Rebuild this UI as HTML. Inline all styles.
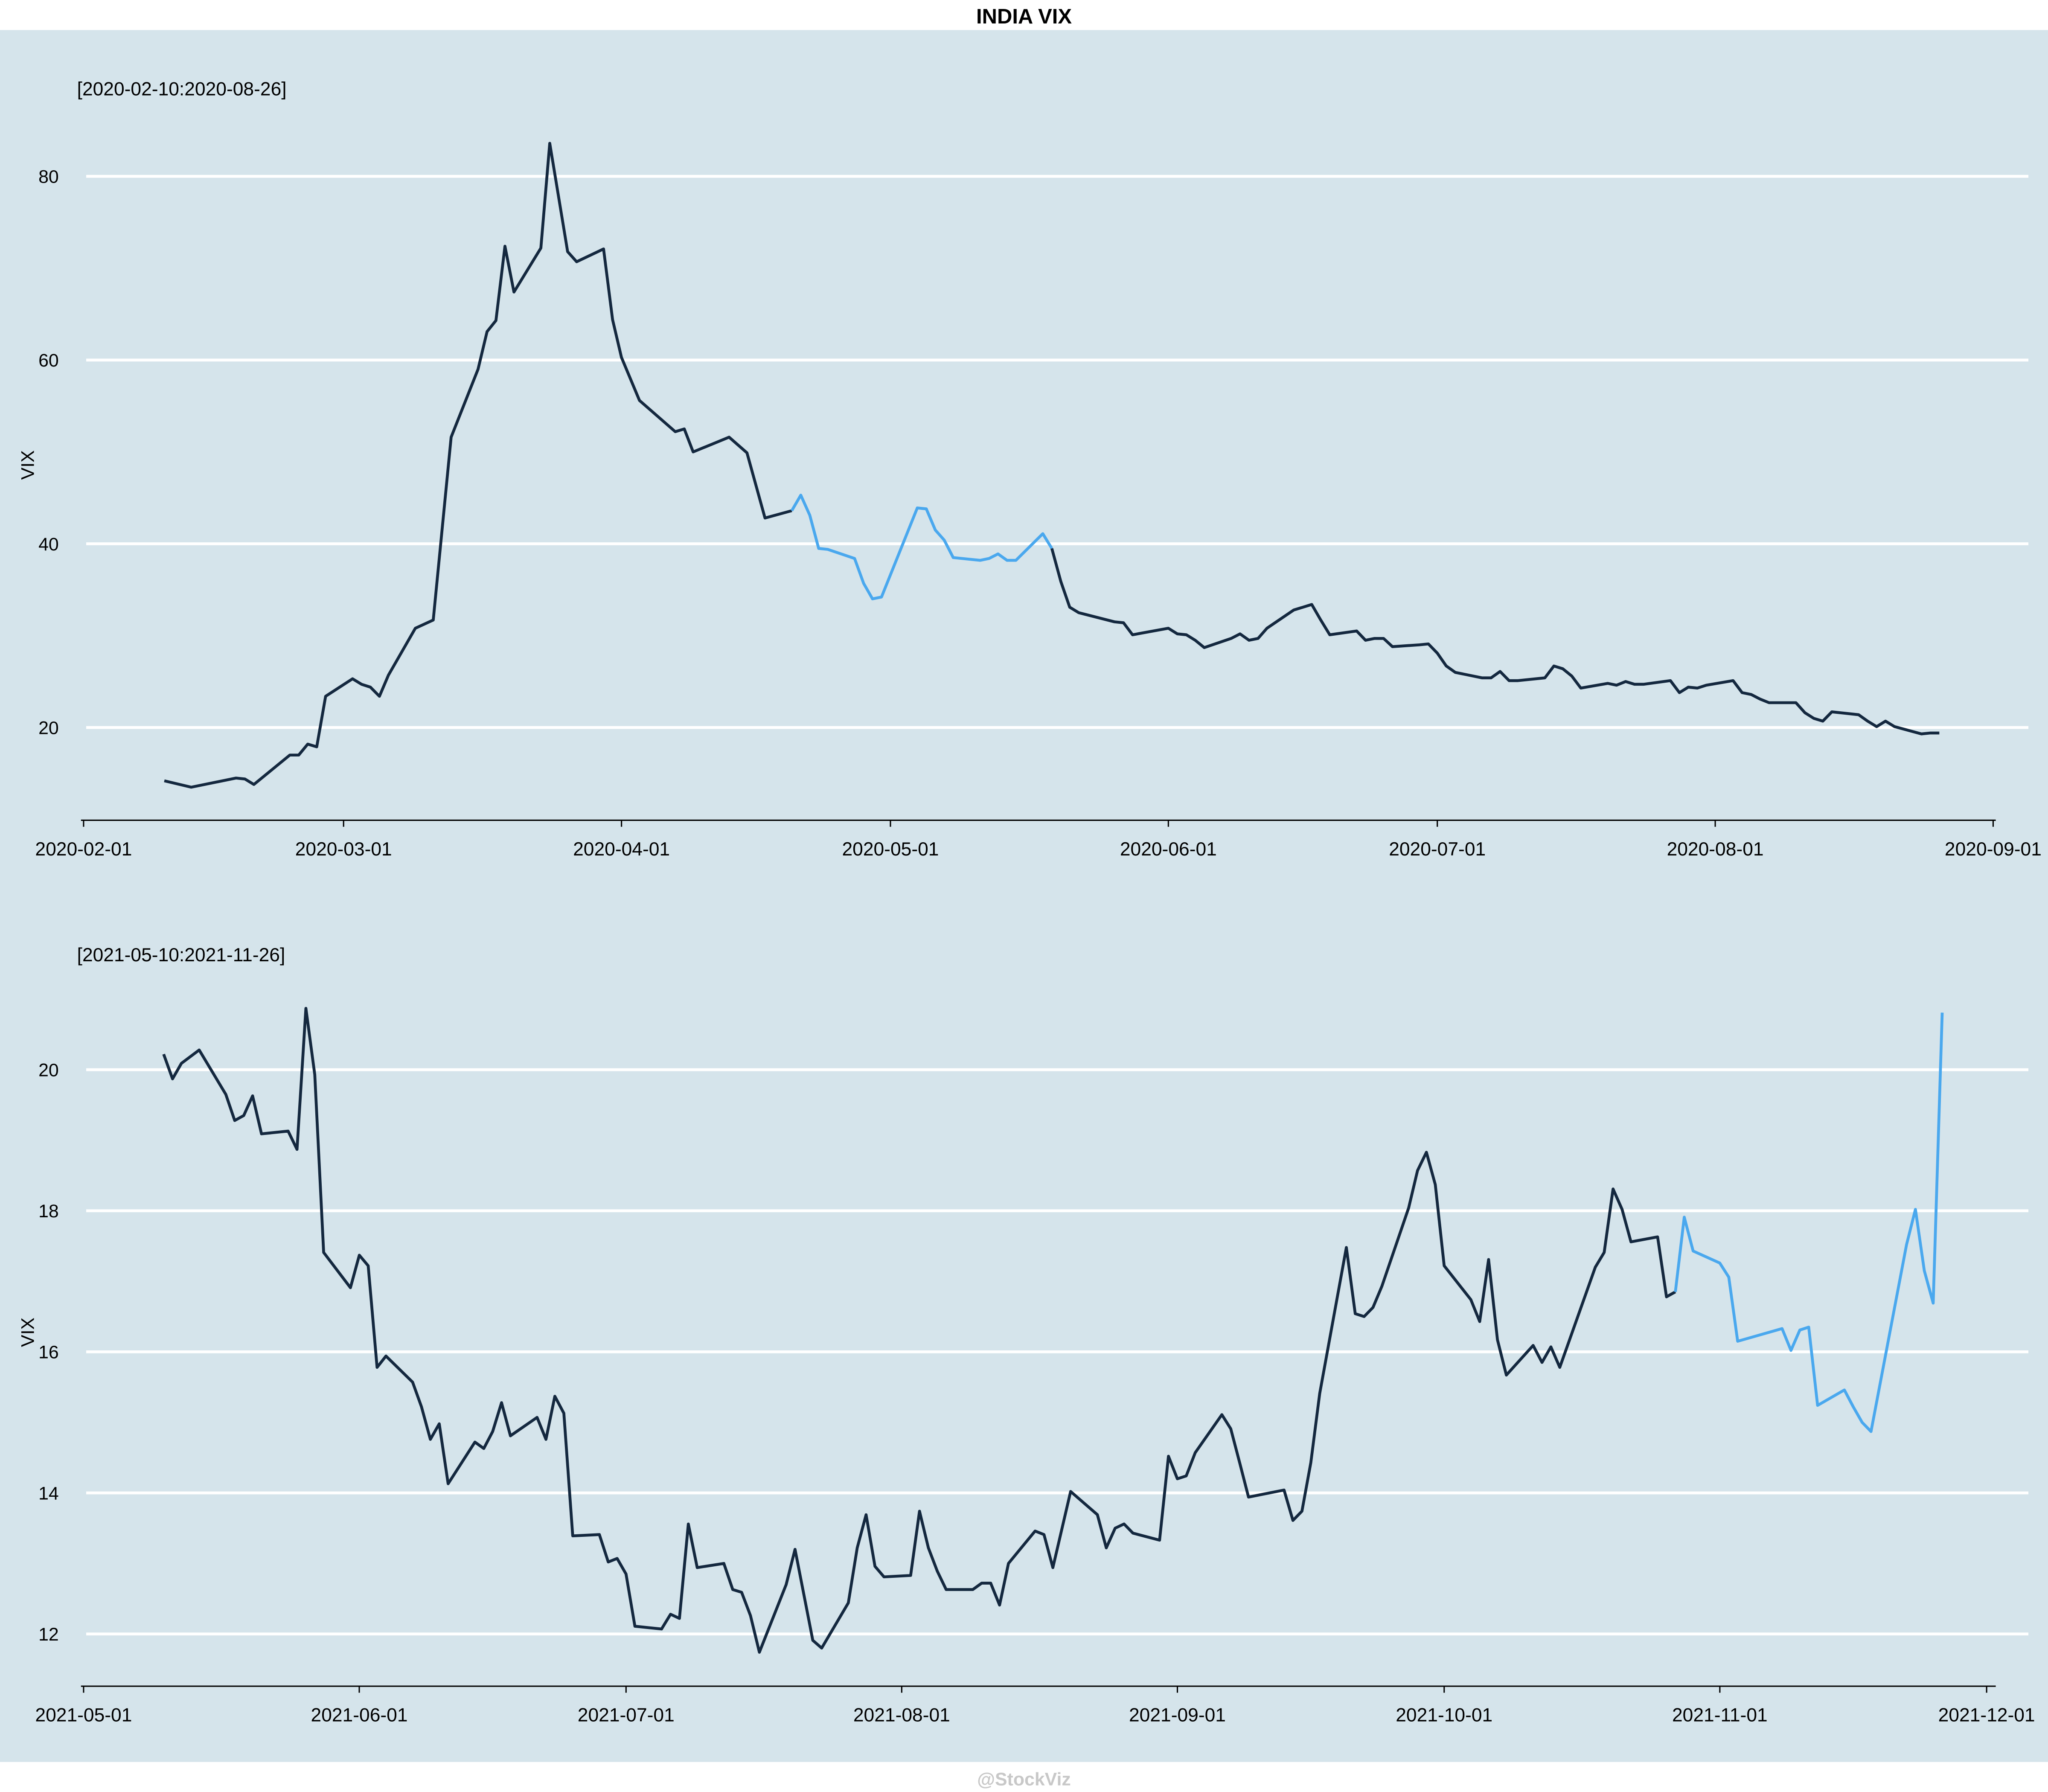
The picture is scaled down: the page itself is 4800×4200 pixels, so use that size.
<!DOCTYPE html>
<html><head><meta charset="utf-8"><style>
html,body{margin:0;padding:0;background:#fff;}
svg{display:block;font-family:"Liberation Sans",Arial,sans-serif;}
</style></head><body>
<svg id="chart" width="4800" height="4200" viewBox="0 0 1568 1372" preserveAspectRatio="none" xmlns="http://www.w3.org/2000/svg">
<rect x="0" y="23" width="1568" height="1326" fill="#d5e4eb"/>
<text x="784" y="18" text-anchor="middle" font-size="16" font-weight="bold" fill="#000">INDIA VIX</text>
<text x="784" y="1367" text-anchor="middle" font-size="14" font-weight="bold" fill="#c8c8c8">@StockViz</text>
<g id="top"></g>
<g id="bot"></g>
</svg>
<script>
const topDates=["2020-02-10","2020-02-13","2020-02-18","2020-02-19","2020-02-20","2020-02-24","2020-02-25","2020-02-26","2020-02-27","2020-02-28","2020-03-02","2020-03-03","2020-03-04","2020-03-05","2020-03-06","2020-03-09","2020-03-11","2020-03-13","2020-03-16","2020-03-17","2020-03-18","2020-03-19","2020-03-20","2020-03-23","2020-03-24","2020-03-26","2020-03-27","2020-03-30","2020-03-31","2020-04-01","2020-04-03","2020-04-07","2020-04-08","2020-04-09","2020-04-13","2020-04-15","2020-04-17","2020-04-20","2020-04-21","2020-04-22","2020-04-23","2020-04-24","2020-04-27","2020-04-28","2020-04-29","2020-04-30","2020-05-04","2020-05-05","2020-05-06","2020-05-07","2020-05-08","2020-05-11","2020-05-12","2020-05-13","2020-05-14","2020-05-15","2020-05-18","2020-05-19","2020-05-20","2020-05-21","2020-05-22","2020-05-26","2020-05-27","2020-05-28","2020-06-01","2020-06-02","2020-06-03","2020-06-04","2020-06-05","2020-06-08","2020-06-09","2020-06-10","2020-06-11","2020-06-12","2020-06-15","2020-06-16","2020-06-17","2020-06-18","2020-06-19","2020-06-22","2020-06-23","2020-06-24","2020-06-25","2020-06-26","2020-06-29","2020-06-30","2020-07-01","2020-07-02","2020-07-03","2020-07-06","2020-07-07","2020-07-08","2020-07-09","2020-07-10","2020-07-13","2020-07-14","2020-07-15","2020-07-16","2020-07-17","2020-07-20","2020-07-21","2020-07-22","2020-07-23","2020-07-24","2020-07-27","2020-07-28","2020-07-29","2020-07-30","2020-07-31","2020-08-03","2020-08-04","2020-08-05","2020-08-06","2020-08-07","2020-08-10","2020-08-11","2020-08-12","2020-08-13","2020-08-14","2020-08-17","2020-08-18","2020-08-19","2020-08-20","2020-08-21","2020-08-24","2020-08-25","2020-08-26"];
const topValues=[14.2,13.5,14.5,14.4,13.8,17.0,17.0,18.2,17.9,23.4,25.3,24.7,24.4,23.4,25.7,30.8,31.7,51.6,59.0,63.1,64.3,72.4,67.4,72.2,83.6,71.8,70.7,72.1,64.4,60.3,55.6,52.2,52.5,50.0,51.6,49.9,42.8,43.6,45.3,43.1,39.5,39.4,38.4,35.7,34.0,34.2,43.9,43.8,41.5,40.4,38.5,38.2,38.4,38.9,38.2,38.2,41.1,39.5,35.9,33.1,32.5,31.5,31.4,30.1,30.8,30.2,30.1,29.5,28.7,29.7,30.2,29.5,29.7,30.8,32.8,33.1,33.4,31.7,30.1,30.5,29.5,29.7,29.7,28.8,29.0,29.1,28.1,26.7,26.0,25.4,25.4,26.1,25.1,25.1,25.4,26.7,26.4,25.6,24.3,24.8,24.6,25.0,24.7,24.7,25.1,23.8,24.4,24.3,24.6,25.1,23.8,23.6,23.1,22.7,22.7,21.6,21.0,20.7,21.7,21.4,20.7,20.1,20.7,20.1,19.3,19.4,19.4];
const topHighlight=["2020-04-20","2020-05-19"];
const topYTicks=[20,40,60,80];
const topXTicks=["2020-02-01","2020-03-01","2020-04-01","2020-05-01","2020-06-01","2020-07-01","2020-08-01","2020-09-01"];

const botDates=["2021-05-10","2021-05-11","2021-05-12","2021-05-14","2021-05-17","2021-05-18","2021-05-19","2021-05-20","2021-05-21","2021-05-24","2021-05-25","2021-05-26","2021-05-27","2021-05-28","2021-05-31","2021-06-01","2021-06-02","2021-06-03","2021-06-04","2021-06-07","2021-06-08","2021-06-09","2021-06-10","2021-06-11","2021-06-14","2021-06-15","2021-06-16","2021-06-17","2021-06-18","2021-06-21","2021-06-22","2021-06-23","2021-06-24","2021-06-25","2021-06-28","2021-06-29","2021-06-30","2021-07-01","2021-07-02","2021-07-05","2021-07-06","2021-07-07","2021-07-08","2021-07-09","2021-07-12","2021-07-13","2021-07-14","2021-07-15","2021-07-16","2021-07-19","2021-07-20","2021-07-22","2021-07-23","2021-07-26","2021-07-27","2021-07-28","2021-07-29","2021-07-30","2021-08-02","2021-08-03","2021-08-04","2021-08-05","2021-08-06","2021-08-09","2021-08-10","2021-08-11","2021-08-12","2021-08-13","2021-08-16","2021-08-17","2021-08-18","2021-08-20","2021-08-23","2021-08-24","2021-08-25","2021-08-26","2021-08-27","2021-08-30","2021-08-31","2021-09-01","2021-09-02","2021-09-03","2021-09-06","2021-09-07","2021-09-08","2021-09-09","2021-09-13","2021-09-14","2021-09-15","2021-09-16","2021-09-17","2021-09-20","2021-09-21","2021-09-22","2021-09-23","2021-09-24","2021-09-27","2021-09-28","2021-09-29","2021-09-30","2021-10-01","2021-10-04","2021-10-05","2021-10-06","2021-10-07","2021-10-08","2021-10-11","2021-10-12","2021-10-13","2021-10-14","2021-10-18","2021-10-19","2021-10-20","2021-10-21","2021-10-22","2021-10-25","2021-10-26","2021-10-27","2021-10-28","2021-10-29","2021-11-01","2021-11-02","2021-11-03","2021-11-08","2021-11-09","2021-11-10","2021-11-11","2021-11-12","2021-11-15","2021-11-16","2021-11-17","2021-11-18","2021-11-22","2021-11-23","2021-11-24","2021-11-25","2021-11-26"];
const botValues=[20.22,19.87,20.09,20.28,19.65,19.28,19.35,19.63,19.09,19.13,18.87,20.87,19.93,17.41,16.91,17.37,17.22,15.78,15.94,15.57,15.22,14.76,14.98,14.13,14.72,14.63,14.87,15.28,14.81,15.07,14.76,15.37,15.13,13.39,13.41,13.02,13.07,12.85,12.11,12.07,12.28,12.22,13.56,12.94,13.0,12.63,12.59,12.26,11.74,12.70,13.20,11.91,11.80,12.44,13.22,13.69,12.96,12.81,12.83,13.74,13.22,12.89,12.63,12.63,12.72,12.72,12.41,13.0,13.46,13.41,12.94,14.02,13.69,13.22,13.50,13.56,13.43,13.33,14.52,14.20,14.24,14.57,15.11,14.91,14.43,13.94,14.04,13.61,13.74,14.43,15.41,17.48,16.54,16.50,16.63,16.93,18.04,18.57,18.83,18.37,17.22,16.74,16.43,17.31,16.17,15.67,16.09,15.85,16.07,15.78,17.20,17.41,18.31,18.02,17.56,17.63,16.78,16.85,17.91,17.43,17.26,17.06,16.15,16.33,16.02,16.31,16.35,15.24,15.46,15.22,15.0,14.87,17.52,18.02,17.15,16.69,20.81];
const botHighlight=["2021-10-27","2021-11-26"];
const botYTicks=[12,14,16,18,20];
const botXTicks=["2021-05-01","2021-06-01","2021-07-01","2021-08-01","2021-09-01","2021-10-01","2021-11-01","2021-12-01"];

const NS="http://www.w3.org/2000/svg";
function day(s){return Date.parse(s+"T00:00:00Z")/86400000;}
function mk(parent,tag,attrs){const e=document.createElementNS(NS,tag);for(const k in attrs)e.setAttribute(k,attrs[k]);parent.appendChild(e);return e;}

function panel(g,cfg){
  const x=d=>cfg.x0+(day(d)-day(cfg.xd0))*(cfg.x1-cfg.x0)/(day(cfg.xd1)-day(cfg.xd0));
  const y=v=>cfg.y0+(v-cfg.v0)*(cfg.y1-cfg.y0)/(cfg.v1-cfg.v0);
  cfg.yTicks.forEach(v=>{
    const l=mk(g,"line",{x1:66,x2:1553,y1:y(v),y2:y(v),stroke:"#fff","stroke-width":2.2});
    
    
    const t=mk(g,"text",{x:45,y:y(v)+5,"text-anchor":"end","font-size":14,fill:"#000"});
    t.textContent=v;
    
    
  });
  const ax=mk(g,"line",{x1:62,x2:1528,y1:cfg.axisY,y2:cfg.axisY,stroke:"#000","stroke-width":1});
  
  
  cfg.xTicks.forEach(d=>{
    const tk=mk(g,"line",{x1:x(d),x2:x(d),y1:cfg.axisY,y2:cfg.axisY+5,stroke:"#000","stroke-width":1});
    
    
    const t=mk(g,"text",{x:x(d),y:cfg.axisY+27,"text-anchor":"middle","font-size":14.5,fill:"#000"});
    t.textContent=d;
    
    
  });
  const yl=mk(g,"text",{x:0,y:0,"text-anchor":"middle","font-size":14,fill:"#000",transform:`translate(26,${cfg.labelY}) rotate(-90)`});
  yl.textContent="VIX";
  
  
  const st=mk(g,"text",{x:59,y:cfg.subY,"font-size":14.5,fill:"#000"});
  st.textContent=cfg.sub;
  
  
  const hs=day(cfg.hl[0]),he=day(cfg.hl[1]);
  const segs=[[],[],[]];
  cfg.dates.forEach((d,i)=>{
    const dd=day(d),p=x(d).toFixed(1)+","+y(cfg.vals[i]).toFixed(1);
    if(dd<=hs)segs[0].push(p);
    if(dd>=hs&&dd<=he)segs[1].push(p);
    if(dd>=he)segs[2].push(p);
  });
  const cols=["#14283f","#4aa8ee","#14283f"];
  const names=["series-line-before","series-line-highlight","series-line-after"];
  segs.forEach((s,i)=>{
    if(s.length<2)return;
    const pl=mk(g,"polyline",{points:s.join(" "),fill:"none",stroke:cols[i],"stroke-width":2.2,"stroke-linejoin":"round"});
    
    
  });
}
panel(document.getElementById("top"),{dates:topDates,vals:topValues,hl:topHighlight,yTicks:topYTicks,xTicks:topXTicks,
  x0:64,x1:1526,xd0:"2020-02-01",xd1:"2020-09-01",v0:20,v1:80,y0:557,y1:135,axisY:628,labelY:356,subY:73,sub:"[2020-02-10:2020-08-26]"});
panel(document.getElementById("bot"),{dates:botDates,vals:botValues,hl:botHighlight,yTicks:botYTicks,xTicks:botXTicks,
  x0:64,x1:1521,xd0:"2021-05-01",xd1:"2021-12-01",v0:12,v1:20,y0:1251,y1:819,axisY:1291,labelY:1020,subY:736,sub:"[2021-05-10:2021-11-26]"});
</script>
</body></html>
